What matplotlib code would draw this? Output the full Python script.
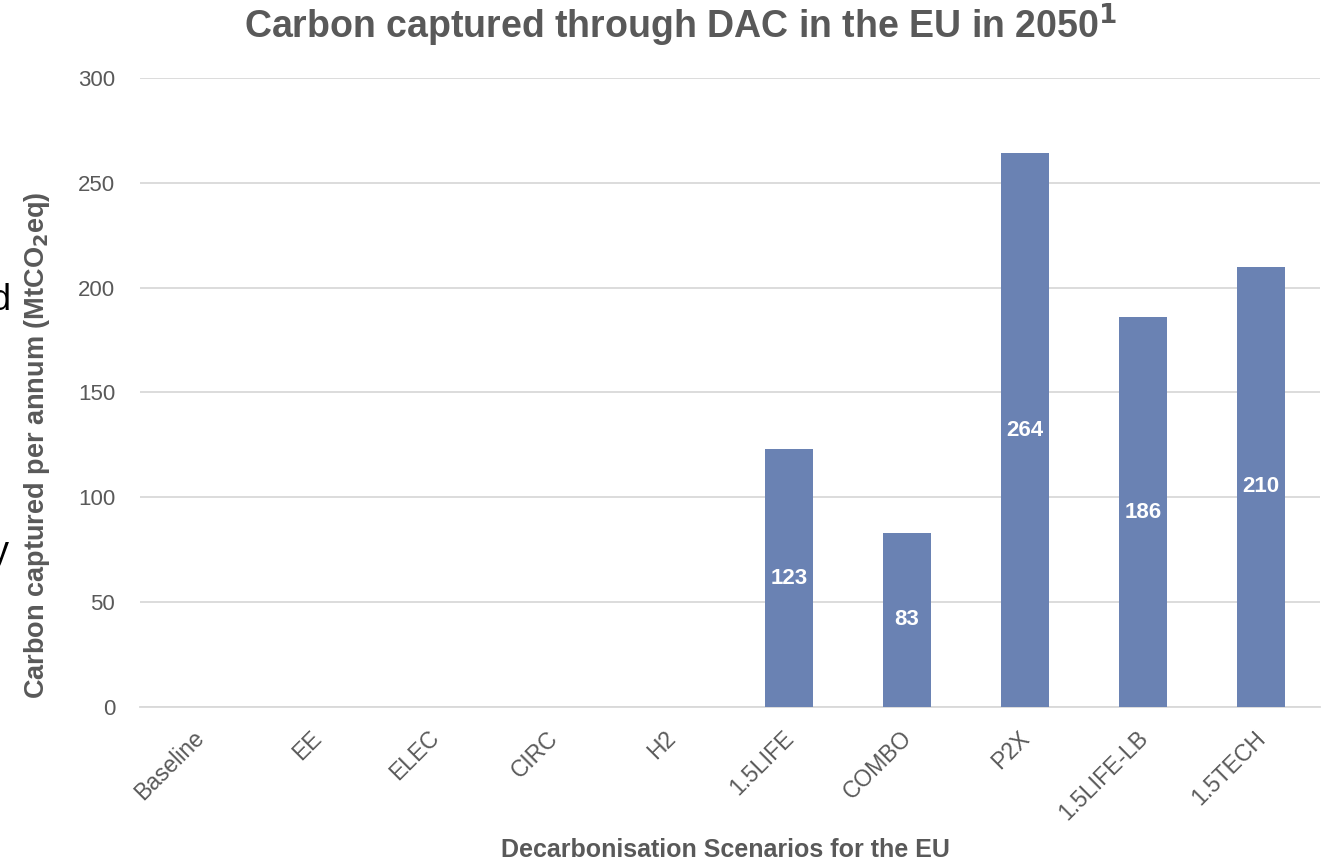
import numpy as np
import matplotlib.pyplot as plt
import matplotlib.transforms as mtransforms

plt.rcParams['font.family'] = ['Liberation Sans', 'DejaVu Sans']

# Data
scenarios = ['Baseline', 'EE', 'ELEC', 'CIRC', 'H2', '1.5LIFE', 'COMBO',
             'P2X', '1.5LIFE-LB', '1.5TECH']
captured = [0, 0, 0, 0, 0, 123, 83, 264, 186, 210]
labels = ['', '', '', '', '', '123', '83', '264', '186', '210']

grey = '#595959'
bar_col = '#6A82B3'

fig = plt.figure(figsize=(13.27, 8.63), dpi=100)
ax = fig.add_axes([140 / 1327, 1 - 707 / 863, 1180 / 1327, 629 / 863])

x = np.arange(len(scenarios))
bars = ax.bar(x, captured, width=0.4, color=bar_col, zorder=3)
for b, lab in zip(bars, labels):
    if lab:
        ax.text(b.get_x() + b.get_width() / 2, b.get_height() / 2, lab,
                ha='center', va='center', color='white', fontsize=16,
                fontweight='bold', zorder=4)

ax.set_xlim(-0.5, len(scenarios) - 0.5)
ax.set_ylim(0, 300)
ax.set_yticks(np.arange(0, 301, 50))
ax.yaxis.grid(True, color='#D9D9D9', linewidth=1.3, zorder=0)
ax.tick_params(axis='y', length=0, labelsize=16, labelcolor=grey, pad=18)
ax.tick_params(axis='x', length=0, labelsize=16.5, labelcolor=grey, pad=14)
ax.set_xticks(x)
ax.set_xticklabels(scenarios, rotation=45, ha='right', rotation_mode='anchor')
# nudge the rotated labels a few pixels left
shift = mtransforms.ScaledTranslation(-7 / 100, 0, fig.dpi_scale_trans)
for t in ax.get_xticklabels():
    t.set_transform(t.get_transform() + shift)
for s in ['top', 'right', 'left']:
    ax.spines[s].set_visible(False)
ax.spines['bottom'].set_color('#D9D9D9')
ax.spines['bottom'].set_linewidth(1.3)

fig.text(37 / 1327, 1 - 445 / 863, 'Carbon captured per annum (MtCO$_\\mathbf{2}$eq)',
         rotation=90, ha='center', va='center', fontsize=19.5,
         fontweight='bold', color=grey)
fig.text(725 / 1327, 1 - 850 / 863, 'Decarbonisation Scenarios for the EU',
         ha='center', va='center', fontsize=18, fontweight='bold', color=grey)
fig.text(681 / 1327, 1 - 25 / 863, 'Carbon captured through DAC in the EU in 2050$^\\mathbf{1}$',
         ha='center', va='center', fontsize=27, fontweight='bold', color=grey)

# cut-off fragments of neighbouring text at the left edge
for ch, yy in [('d', 300), ('l', 420), ('y', 552)]:
    fig.text(-9 / 1327, 1 - yy / 863, ch, ha='left', va='center',
             fontsize=26, color='black')

fig.savefig('out.png', dpi=100)
